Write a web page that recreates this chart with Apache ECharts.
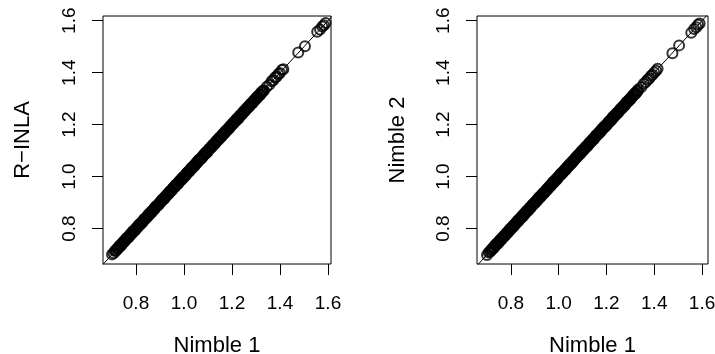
<!DOCTYPE html>
<html>
<head>
<meta charset="utf-8">
<script src="https://cdn.jsdelivr.net/npm/echarts@6/dist/echarts.min.js"></script>
<style>
html,body{margin:0;padding:0;background:#fff;}
#chart{width:715px;height:354px;}
</style>
</head>
<body>
<div id="chart"></div>
<script>
// Tick values shared by all axes
const tickValues = [0.8, 1.0, 1.2, 1.4, 1.6];
// Axis titles
const xTitle = 'Nimble 1';
const yTitleLeft = 'R\u2212INLA';
const yTitleRight = 'Nimble 2';
// Reference line y = x (endpoints, clipped to the plot box)
const refLine = [0.6, 1.7];

// Estimates from Nimble run 1 (x in both panels)
const nimble1 = [
0.700, 0.707, 0.712,
0.715, 0.718, 0.721, 0.724, 0.727, 0.730, 0.733, 0.736, 0.739, 0.742, 0.745, 0.748, 0.751, 0.754, 0.757, 0.760, 0.763, 0.766, 0.769, 0.772,
0.775, 0.778, 0.781, 0.784, 0.787, 0.790, 0.793, 0.796, 0.799, 0.802, 0.805, 0.808, 0.811, 0.814, 0.817, 0.820, 0.823, 0.826, 0.829, 0.832,
0.835, 0.838, 0.841, 0.844, 0.847, 0.850, 0.853, 0.856, 0.859, 0.862, 0.865, 0.868, 0.871, 0.874, 0.877, 0.880, 0.883, 0.886, 0.889, 0.892,
0.895, 0.898, 0.901, 0.904, 0.907, 0.910, 0.913, 0.916, 0.919, 0.922, 0.925, 0.928, 0.931, 0.934, 0.937, 0.940, 0.943, 0.946, 0.949, 0.952,
0.955, 0.958, 0.961, 0.964, 0.967, 0.970, 0.973, 0.976, 0.979, 0.982, 0.985, 0.988, 0.991, 0.994, 0.997, 1.000, 1.003, 1.006, 1.009, 1.012,
1.015, 1.018, 1.021, 1.024, 1.027, 1.030, 1.033, 1.036, 1.039, 1.042, 1.045, 1.048, 1.051, 1.054, 1.057, 1.060, 1.063, 1.066, 1.069, 1.072,
1.075, 1.078, 1.081, 1.084, 1.087, 1.090, 1.093, 1.096, 1.099, 1.102, 1.105, 1.108, 1.111, 1.114, 1.117, 1.120, 1.123, 1.126, 1.129, 1.132,
1.135, 1.138, 1.141, 1.144, 1.147, 1.150, 1.153, 1.156, 1.159, 1.162, 1.165, 1.168, 1.171, 1.174, 1.177, 1.180, 1.183, 1.186, 1.189, 1.192,
1.195, 1.198, 1.201,
1.204, 1.207, 1.210, 1.213, 1.216, 1.219, 1.222, 1.225, 1.228, 1.231, 1.234, 1.237, 1.240, 1.243, 1.246, 1.249, 1.252, 1.255, 1.258, 1.261,
1.264, 1.267, 1.270, 1.273, 1.276, 1.279, 1.282, 1.285, 1.288, 1.291, 1.294, 1.297, 1.300, 1.303, 1.306, 1.309, 1.312, 1.315, 1.318, 1.321,
1.324, 1.327, 1.330, 1.333,
1.345, 1.356, 1.365, 1.372, 1.379, 1.386, 1.393, 1.400, 1.408, 1.414, 1.476, 1.504, 1.555, 1.567, 1.576, 1.583, 1.590
];
// Estimates from R-INLA (left panel y)
const rinla = [
0.701, 0.705, 0.714,
0.716, 0.716, 0.723, 0.724, 0.726, 0.733, 0.731, 0.737, 0.736, 0.744, 0.746, 0.747, 0.753, 0.752, 0.757, 0.763, 0.762, 0.767, 0.767, 0.774,
0.774, 0.780, 0.781, 0.782, 0.790, 0.791, 0.792, 0.793, 0.801, 0.802, 0.806, 0.806, 0.814, 0.813, 0.819, 0.818, 0.823, 0.827, 0.826, 0.834,
0.837, 0.837, 0.842, 0.842, 0.847, 0.853, 0.851, 0.857, 0.858, 0.864, 0.862, 0.869, 0.871, 0.876, 0.875, 0.881, 0.886, 0.885, 0.889, 0.890,
0.896, 0.896, 0.903, 0.904, 0.906, 0.913, 0.911, 0.917, 0.916, 0.924, 0.926, 0.927, 0.933, 0.932, 0.937, 0.943, 0.942, 0.947, 0.947, 0.954,
0.954, 0.960, 0.961, 0.962, 0.970, 0.971, 0.972, 0.973, 0.981, 0.982, 0.986, 0.986, 0.994, 0.993, 0.999, 0.998, 1.003, 1.007, 1.006, 1.014,
1.017, 1.017, 1.022, 1.022, 1.027, 1.033, 1.031, 1.037, 1.038, 1.044, 1.042, 1.049, 1.051, 1.056, 1.055, 1.061, 1.066, 1.065, 1.069, 1.070,
1.076, 1.076, 1.083, 1.084, 1.086, 1.093, 1.091, 1.097, 1.096, 1.104, 1.106, 1.107, 1.113, 1.112, 1.117, 1.123, 1.122, 1.127, 1.127, 1.134,
1.134, 1.140, 1.141, 1.142, 1.150, 1.151, 1.152, 1.153, 1.161, 1.162, 1.166, 1.166, 1.174, 1.173, 1.179, 1.178, 1.183, 1.187, 1.186, 1.194,
1.196, 1.197, 1.203,
1.205, 1.205, 1.212, 1.213, 1.215, 1.222, 1.220, 1.226, 1.225, 1.233, 1.235, 1.236, 1.242, 1.241, 1.246, 1.252, 1.251, 1.256, 1.256, 1.263,
1.263, 1.269, 1.270, 1.271, 1.279, 1.280, 1.281, 1.282, 1.290, 1.291, 1.295, 1.295, 1.303, 1.302, 1.308, 1.307, 1.312, 1.316, 1.315, 1.323,
1.326, 1.326, 1.331, 1.331,
1.346, 1.354, 1.367, 1.371, 1.381, 1.384, 1.395, 1.399, 1.410, 1.413, 1.478, 1.502, 1.557, 1.566, 1.578, 1.582, 1.591
];
// Estimates from Nimble run 2 (right panel y)
const nimble2 = [
0.699, 0.708, 0.711,
0.714, 0.720, 0.719, 0.724, 0.728, 0.727, 0.735, 0.735, 0.742, 0.740, 0.744, 0.749, 0.749, 0.756, 0.757, 0.757, 0.764, 0.765, 0.771, 0.770,
0.776, 0.776, 0.781, 0.786, 0.784, 0.789, 0.794, 0.799, 0.797, 0.802, 0.804, 0.810, 0.808, 0.815, 0.815, 0.822, 0.823, 0.825, 0.832, 0.830,
0.833, 0.839, 0.840, 0.846, 0.847, 0.847, 0.855, 0.855, 0.860, 0.860, 0.868, 0.867, 0.871, 0.872, 0.879, 0.879, 0.880, 0.887, 0.889, 0.894,
0.894, 0.900, 0.899, 0.904, 0.908, 0.907, 0.915, 0.915, 0.922, 0.920, 0.924, 0.929, 0.929, 0.936, 0.937, 0.937, 0.944, 0.945, 0.951, 0.950,
0.956, 0.956, 0.961, 0.966, 0.964, 0.969, 0.974, 0.979, 0.977, 0.982, 0.984, 0.990, 0.988, 0.995, 0.995, 1.002, 1.003, 1.005, 1.012, 1.010,
1.013, 1.019, 1.020, 1.026, 1.027, 1.027, 1.035, 1.035, 1.040, 1.040, 1.048, 1.047, 1.051, 1.052, 1.059, 1.059, 1.060, 1.067, 1.069, 1.074,
1.074, 1.080, 1.079, 1.084, 1.088, 1.087, 1.095, 1.095, 1.102, 1.100, 1.104, 1.109, 1.109, 1.116, 1.117, 1.117, 1.124, 1.125, 1.131, 1.130,
1.136, 1.136, 1.141, 1.146, 1.144, 1.149, 1.154, 1.159, 1.157, 1.162, 1.164, 1.170, 1.168, 1.175, 1.175, 1.182, 1.183, 1.185, 1.192, 1.190,
1.194, 1.199, 1.199,
1.203, 1.209, 1.208, 1.213, 1.217, 1.216, 1.224, 1.224, 1.231, 1.229, 1.233, 1.238, 1.238, 1.245, 1.246, 1.246, 1.253, 1.254, 1.260, 1.259,
1.265, 1.265, 1.270, 1.275, 1.273, 1.278, 1.283, 1.288, 1.286, 1.291, 1.293, 1.299, 1.297, 1.304, 1.304, 1.311, 1.312, 1.314, 1.321, 1.319,
1.322, 1.328, 1.329, 1.335,
1.344, 1.357, 1.364, 1.373, 1.378, 1.387, 1.392, 1.401, 1.407, 1.415, 1.475, 1.505, 1.554, 1.568, 1.575, 1.584, 1.589
];

const FONT = '"Liberation Sans", Arial, Helvetica, sans-serif';
const FS = 19;   // tick labels
const FS_T = 22; // axis titles

function pairs(xs, ys) { return xs.map((x, i) => [x, ys[i]]); }
const lineData = refLine.map(v => [v, v]);

function xAxisDef(idx, min, max) {
  return {
    gridIndex: idx, type: 'value', min: min, max: max,
    splitLine: { show: false },
    axisLine: { show: false },
    axisTick: { show: true, length: 11, customValues: tickValues, lineStyle: { color: '#000', width: 1 } },
    axisLabel: { customValues: tickValues, formatter: v => v.toFixed(1), color: '#000',
      fontFamily: FONT, fontSize: FS, margin: 30 },
    name: xTitle, nameLocation: 'middle', nameGap: 71,
    nameTextStyle: { color: '#000', fontFamily: FONT, fontSize: FS_T }
  };
}
function yAxisDef(idx, min, max, title, gap) {
  return {
    gridIndex: idx, type: 'value', min: min, max: max,
    splitLine: { show: false },
    axisLine: { show: false },
    axisTick: { show: true, length: 11, customValues: tickValues, lineStyle: { color: '#000', width: 1 } },
    axisLabel: { customValues: tickValues, formatter: v => v.toFixed(1), color: '#000',
      fontFamily: FONT, fontSize: FS, rotate: 90, margin: 24 },
    name: title, nameLocation: 'middle', nameGap: gap,
    nameTextStyle: { color: '#000', fontFamily: FONT, fontSize: FS_T }
  };
}
function scatterSeries(idx, data) {
  return {
    type: 'scatter', xAxisIndex: idx, yAxisIndex: idx, data: data,
    symbol: 'circle', symbolSize: 10, silent: true, large: false,
    itemStyle: { color: 'rgba(0,0,0,0)', borderColor: '#000', borderWidth: 2 },
    z: 3
  };
}
function lineSeries(idx) {
  return {
    type: 'line', xAxisIndex: idx, yAxisIndex: idx, data: lineData,
    symbol: 'none', silent: true, clip: true,
    lineStyle: { color: '#000', width: 1 }, z: 2
  };
}

const chart = echarts.init(document.getElementById('chart'), null, { renderer: 'canvas' });
chart.setOption({
  animation: false,
  backgroundColor: '#fff',
  grid: [
    { left: 103, top: 16, width: 228, height: 248, show: true, borderColor: '#000', borderWidth: 1,
      backgroundColor: 'transparent', containLabel: false, outerBoundsMode: 'none' },
    { left: 477, top: 16, width: 231, height: 248, show: true, borderColor: '#000', borderWidth: 1,
      backgroundColor: 'transparent', containLabel: false, outerBoundsMode: 'none' }
  ],
  xAxis: [ xAxisDef(0, 0.6625, 1.6125), xAxisDef(1, 0.658, 1.625) ],
  yAxis: [ yAxisDef(0, 0.664, 1.618, yTitleLeft, 69), yAxisDef(1, 0.664, 1.618, yTitleRight, 68) ],
  series: [
    lineSeries(0), scatterSeries(0, pairs(nimble1, rinla)),
    lineSeries(1), scatterSeries(1, pairs(nimble1, nimble2))
  ]
});
</script>
</body>
</html>
